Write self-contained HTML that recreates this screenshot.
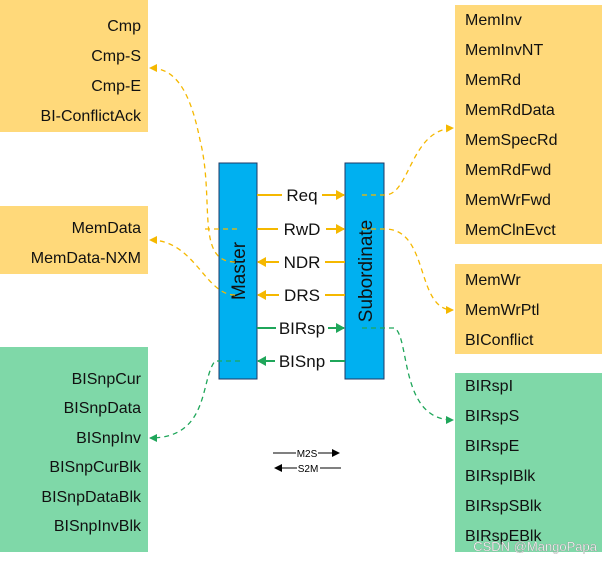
<!DOCTYPE html>
<html><head><style>
body{margin:0;background:#fff;width:602px;height:563px;overflow:hidden;font-family:"Liberation Sans",sans-serif}
</style></head><body>
<svg width="602" height="563" xmlns="http://www.w3.org/2000/svg" font-family="Liberation Sans, sans-serif">
<defs>
<marker id="y" markerUnits="userSpaceOnUse" markerWidth="9" markerHeight="10" refX="8" refY="5" orient="auto"><path d="M0,0 L9,5 L0,10z" fill="#f5b800"/></marker>
<marker id="g" markerUnits="userSpaceOnUse" markerWidth="9" markerHeight="10" refX="8" refY="5" orient="auto"><path d="M0,0 L9,5 L0,10z" fill="#1fa65a"/></marker>
<marker id="ys" markerUnits="userSpaceOnUse" markerWidth="8" markerHeight="8" refX="7" refY="4" orient="auto"><path d="M0,0 L8,4 L0,8z" fill="#f5b800"/></marker>
<marker id="gs" markerUnits="userSpaceOnUse" markerWidth="8" markerHeight="8" refX="7" refY="4" orient="auto"><path d="M0,0 L8,4 L0,8z" fill="#1fa65a"/></marker>
<marker id="k" markerUnits="userSpaceOnUse" markerWidth="8" markerHeight="8" refX="7" refY="4" orient="auto"><path d="M0,0 L8,4 L0,8z" fill="#000"/></marker>
</defs>
<g fill="#ffd97a">
<rect x="0" y="0" width="148" height="132"/>
<rect x="455" y="5" width="147" height="239"/>
<rect x="0" y="206" width="148" height="68"/>
<rect x="455" y="264" width="147" height="90"/>
</g>
<g fill="#7fd8a8">
<rect x="0" y="347" width="148" height="205"/>
<rect x="455" y="373" width="147" height="179"/>
</g>
<g font-size="16" fill="#111" text-anchor="end">
<text x="141" y="31">Cmp</text><text x="141" y="61">Cmp-S</text><text x="141" y="91">Cmp-E</text><text x="141" y="121">BI-ConflictAck</text>
<text x="141" y="233">MemData</text><text x="141" y="263">MemData-NXM</text>
<text x="141" y="384">BISnpCur</text><text x="141" y="413">BISnpData</text><text x="141" y="443">BISnpInv</text><text x="141" y="472">BISnpCurBlk</text><text x="141" y="502">BISnpDataBlk</text><text x="141" y="531">BISnpInvBlk</text>
</g>
<g font-size="16" fill="#111">
<text x="465" y="25">MemInv</text><text x="465" y="55">MemInvNT</text><text x="465" y="85">MemRd</text><text x="465" y="115">MemRdData</text><text x="465" y="145">MemSpecRd</text><text x="465" y="175">MemRdFwd</text><text x="465" y="205">MemWrFwd</text><text x="465" y="235">MemClnEvct</text>
<text x="465" y="285">MemWr</text><text x="465" y="315">MemWrPtl</text><text x="465" y="345">BIConflict</text>
<text x="465" y="391">BIRspI</text><text x="465" y="421">BIRspS</text><text x="465" y="451">BIRspE</text><text x="465" y="481">BIRspIBlk</text><text x="465" y="511">BIRspSBlk</text><text x="465" y="541">BIRspEBlk</text>
</g>
<text x="597" y="551" font-size="13" fill="#fff" text-anchor="end" stroke="#888" stroke-width="0.3">CSDN @MangoPapa</text>
<rect x="219" y="163" width="38" height="216" fill="#00b0f0" stroke="#1f3864" stroke-width="1"/>
<rect x="345" y="163" width="39" height="216" fill="#00b0f0" stroke="#1f3864" stroke-width="1"/>
<text transform="translate(245,271) rotate(-90)" font-size="19" text-anchor="middle" fill="#111">Master</text>
<text transform="translate(372,271) rotate(-90)" font-size="19" text-anchor="middle" fill="#111">Subordinate</text>
<g stroke-width="2" fill="none">
<path d="M257,195 H282 M322,195 H344" stroke="#f5b800" marker-end="url(#y)"/>
<path d="M257,229 H278 M326,229 H344" stroke="#f5b800" marker-end="url(#y)"/>
<path d="M345,262 H325 M279,262 H258" stroke="#f5b800" marker-end="url(#y)"/>
<path d="M345,295 H325 M279,295 H258" stroke="#f5b800" marker-end="url(#y)"/>
<path d="M257,328 H276 M328,328 H344" stroke="#1fa65a" marker-end="url(#g)"/>
<path d="M345,361 H330 M275,361 H258" stroke="#1fa65a" marker-end="url(#g)"/>
</g>
<g font-size="17" fill="#111" text-anchor="middle">
<text x="302" y="201">Req</text><text x="302" y="235">RwD</text><text x="302" y="268">NDR</text><text x="302" y="301">DRS</text><text x="302" y="334">BIRsp</text><text x="302" y="367">BISnp</text>
</g>
<g fill="none" stroke-width="1.3" stroke-dasharray="5,4">
<path d="M235,262 C195,262 215,200 200,140 C190,90 175,68 150,68" stroke="#f5b800" marker-end="url(#ys)"/>
<path d="M235,295 C205,295 195,240 150,240" stroke="#f5b800" marker-end="url(#ys)"/>
<path d="M205,229 H240" stroke="#f5b800"/>
<path d="M362,195 H385 C410,195 410,130 453,128" stroke="#f5b800" marker-end="url(#ys)"/>
<path d="M362,229 H385 C430,229 415,310 453,310" stroke="#f5b800" marker-end="url(#ys)"/>
<path d="M362,328 H395 C410,340 400,420 453,420" stroke="#1fa65a" marker-end="url(#gs)"/>
<path d="M240,361 H215 C200,380 210,438 150,438" stroke="#1fa65a" marker-end="url(#gs)"/>
</g>
<g stroke="#000" stroke-width="1" fill="none">
<path d="M273,453 H296 M318,453 H339" marker-end="url(#k)"/>
<path d="M341,468 H320 M297,468 H275" marker-end="url(#k)"/>
</g>
<text x="307" y="457" font-size="10" text-anchor="middle">M2S</text>
<text x="308" y="472" font-size="10" text-anchor="middle">S2M</text>
</svg>
</body></html>
